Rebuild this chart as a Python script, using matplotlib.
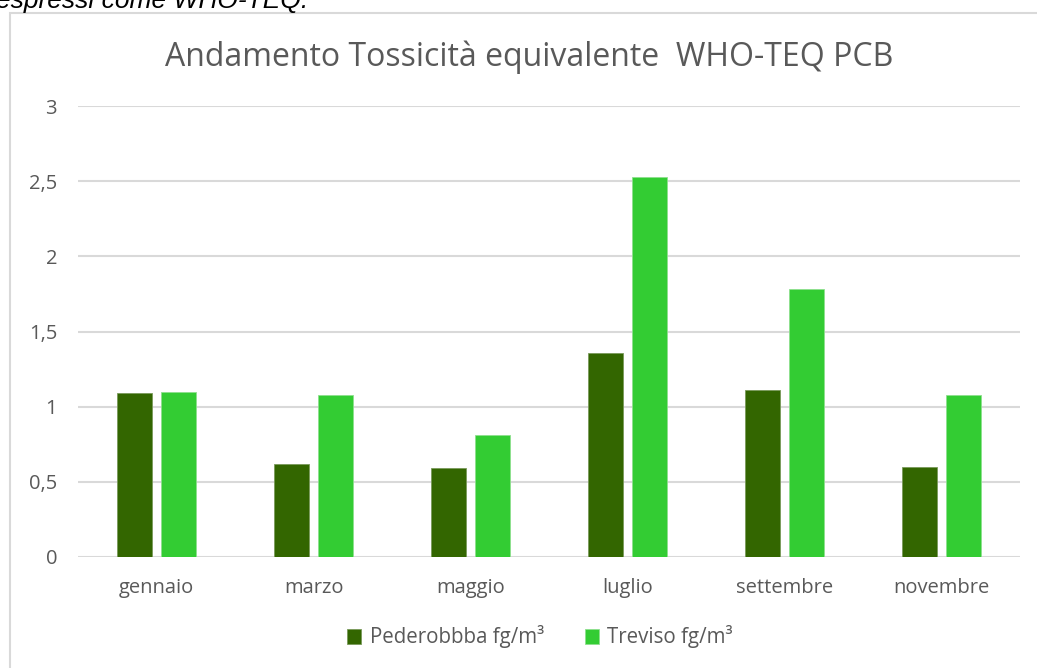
import numpy as np
import matplotlib
matplotlib.use('Agg')
import matplotlib.pyplot as plt
from matplotlib.patches import Rectangle

months = ['gennaio', 'marzo', 'maggio', 'luglio', 'settembre', 'novembre']
pederobba = [1.09, 0.62, 0.59, 1.36, 1.11, 0.60]
treviso = [1.10, 1.08, 0.81, 2.53, 1.78, 1.08]
series_names = ['Pederobbba fg/m³', 'Treviso fg/m³']
yticks = [0, 0.5, 1, 1.5, 2, 2.5, 3]
ytick_labels = ['0', '0,5', '1', '1,5', '2', '2,5', '3']

dark = '#336600'
light = '#33cc33'
grey_text = '#595959'

plt.rcParams['font.family'] = ['Open Sans', 'DejaVu Sans']

W, H = 1037, 668
fig = plt.figure(figsize=(W / 100, H / 100), dpi=100)

# chart border and the cut-off caption above it (cut in the original too)
fig.patches.append(Rectangle((9.5 / W, -0.05), 1.1, 1 - 12.5 / H + 0.05,
                             transform=fig.transFigure, fill=False,
                             edgecolor='#d9d9d9', linewidth=1.5))
fig.text(-4 / W, 1 - 8 / H, 'espressi come WHO-TEQ.', fontsize=19,
         style='italic', family='Liberation Sans', color='black', va='baseline')

ax = fig.add_axes([78 / W, 1 - 557 / H, 942 / W, 451 / H])
x = np.arange(len(months))
bw = 0.223
off = 0.143
ax.bar(x - off, pederobba, bw, color=dark, edgecolor='#7a9a5a', linewidth=0.6,
       label=series_names[0], zorder=3)
ax.bar(x + off, treviso, bw, color=light, edgecolor='#8ee08e', linewidth=0.6,
       label=series_names[1], zorder=3)

ax.set_xlim(-0.5, len(months) - 0.5)
ax.set_ylim(0, 3)
ax.set_yticks(yticks)
ax.set_yticklabels(ytick_labels)
ax.set_xticks(x)
ax.set_xticklabels(months)
ax.tick_params(axis='both', length=0, labelsize=14.5, colors=grey_text)
ax.tick_params(axis='y', pad=15)
ax.tick_params(axis='x', pad=15)
ax.grid(axis='y', color='#d9d9d9', linewidth=1.5, zorder=0)
for s in ax.spines.values():
    s.set_visible(False)

fig.text(529 / W, 1 - 57 / H, 'Andamento Tossicità equivalente  WHO-TEQ PCB',
         ha='center', va='center', fontsize=23, color=grey_text)

leg = fig.legend(loc='center', bbox_to_anchor=(540 / W, 1 - 637 / H), ncol=2,
                 frameon=False, fontsize=14.8, handlelength=0.7, handleheight=0.7,
                 handletextpad=0.4, columnspacing=2.0)
for t in leg.get_texts():
    t.set_color(grey_text)

fig.savefig('out.png', dpi=100)
